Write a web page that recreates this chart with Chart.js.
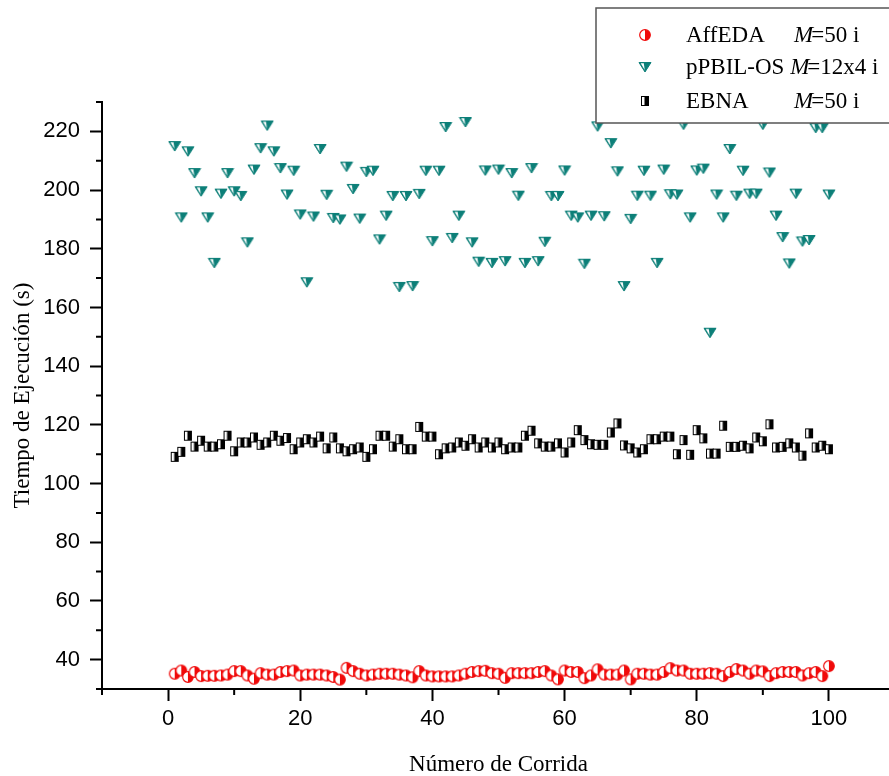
<!DOCTYPE html>
<html>
<head>
<meta charset="utf-8">
<script src="https://cdn.jsdelivr.net/npm/chart.js@4.4.0/dist/chart.umd.min.js"></script>
<style>
  html, body { margin: 0; padding: 0; background: #fff; overflow: hidden; }
</style>
</head>
<body>
<canvas id="myChart" width="900" height="776"></canvas>
<script>
// run number (x axis)
const runs = [
  1, 2, 3, 4, 5, 6, 7, 8, 9, 10, 11, 12, 13, 14, 15, 16, 17, 18, 19, 20,
  21, 22, 23, 24, 25, 26, 27, 28, 29, 30, 31, 32, 33, 34, 35, 36, 37, 38, 39, 40,
  41, 42, 43, 44, 45, 46, 47, 48, 49, 50, 51, 52, 53, 54, 55, 56, 57, 58, 59, 60,
  61, 62, 63, 64, 65, 66, 67, 68, 69, 70, 71, 72, 73, 74, 75, 76, 77, 78, 79, 80,
  81, 82, 83, 84, 85, 86, 87, 88, 89, 90, 91, 92, 93, 94, 95, 96, 97, 98, 99, 100
];

// execution times (s)
const affeda = [
  35.2, 36.3, 34.1, 35.8, 34.4, 34.5, 34.5, 34.6, 34.9, 36.1,
  36.1, 34.6, 33.5, 35.4, 34.9, 34.9, 35.8, 36.1, 36.3, 34.6,
  34.9, 34.9, 34.9, 34.6, 34.1, 33.2, 37.2, 36.1, 35.2, 34.6,
  34.9, 35.2, 35.2, 35.2, 34.9, 34.6, 34.0, 36.1, 34.6, 34.3,
  34.3, 34.3, 34.3, 34.6, 35.2, 35.8, 36.1, 36.2, 35.4, 35.2,
  33.8, 35.4, 35.4, 35.4, 35.4, 35.8, 36.1, 34.6, 33.3, 36.3,
  35.8, 35.8, 33.7, 34.6, 36.7, 34.9, 34.9, 34.9, 36.3, 33.3,
  35.2, 35.2, 34.9, 34.9, 35.8, 37.1, 36.3, 36.3, 35.2, 35.2,
  35.2, 35.4, 35.2, 34.4, 35.8, 36.8, 36.3, 35.2, 36.3, 36.0,
  34.4, 35.4, 35.8, 35.8, 35.8, 34.6, 35.4, 35.8, 34.4, 37.8
];

const ppbil = [
  215, 190.7, 213.2, 205.8, 199.6, 190.7, 175.2, 198.8, 205.8, 199.6,
  198, 182.2, 207, 214.3, 222, 213.2, 207.5, 198.5, 206.6, 191.7,
  168.6, 191, 214, 198.4, 190.5, 190, 208, 200.4, 190.3, 206.2,
  206.6, 183.2, 191.3, 198, 167, 198, 167.3, 198.7, 206.6, 182.6,
  206.6, 221.5, 183.7, 191.3, 223.2, 182.2, 175.6, 206.7, 175.2, 207,
  175.8, 205.8, 198.1, 175.2, 207.5, 175.8, 182.4, 198, 198, 206.7,
  191.3, 190.7, 174.9, 191.3, 221.7, 191.1, 216, 206.4, 167.3, 190.2,
  198.1, 206.6, 198.1, 175.2, 207, 198.6, 198.5, 222.3, 190.7, 206.7,
  207.3, 151.4, 198.5, 190.7, 214, 198.1, 206.6, 198.8, 198.8, 222.3,
  206, 191.3, 184, 175, 198.8, 182.5, 183, 221.2, 221.2, 198.5
];

const ebna = [
  109.1, 110.8, 116.3, 112.6, 114.6, 112.6, 112.6, 113.4, 116.3, 111,
  114, 114, 115.7, 113.2, 114, 116.3, 114.6, 115.5, 111.7, 114,
  115.1, 114, 116, 112, 115.7, 112, 111, 111.7, 112.3, 109.1,
  111.7, 116.3, 116.3, 112.6, 115.1, 111.7, 111.7, 119.3, 116, 116,
  110, 112, 112.3, 114, 112.9, 115.1, 112.3, 114, 112.3, 114,
  111.7, 112.3, 112.3, 116.3, 118, 113.7, 112.6, 112.6, 113.7, 110.6,
  114, 118.2, 114.8, 113.4, 113.2, 113.2, 117.4, 120.5, 113, 112,
  110.6, 111.7, 115.1, 115.1, 116, 116, 110, 114.8, 109.8, 118.2,
  115.4, 110.2, 110.2, 119.7, 112.5, 112.5, 112.9, 112, 115.7, 114.4,
  120.2, 112.3, 112.5, 113.7, 112.3, 109.5, 117.1, 112.3, 112.9, 111.7
];

const seriesNames = ["AffEDA", "pPBIL-OS", "EBNA"];
const seriesM = ["=50 i", "=12x4 i", "=50 i"];
const xTicks = [-10, 0, 10, 20, 30, 40, 50, 60, 70, 80, 90, 100, 110];
const yTicks = [30, 40, 50, 60, 70, 80, 90, 100, 110, 120, 130, 140, 150, 160, 170, 180, 190, 200, 210, 220, 230];

const RED = "#f00a0a";
const TEAL = "#0c7f78";
const BLACK = "#000000";

// half filled marker images
function halfCircle(color) {
  const c = document.createElement("canvas");
  c.width = 14; c.height = 14;
  const g = c.getContext("2d");
  g.fillStyle = "#fff";
  g.beginPath(); g.arc(7, 7, 5.3, 0, Math.PI * 2); g.fill();
  g.fillStyle = color;
  g.beginPath(); g.arc(7, 7, 5.3, -Math.PI / 2, Math.PI / 2); g.closePath(); g.fill();
  g.strokeStyle = color; g.lineWidth = 1.2;
  g.beginPath(); g.arc(7, 7, 5.3, 0, Math.PI * 2); g.stroke();
  return c;
}

function halfTriangle(color) {
  const c = document.createElement("canvas");
  c.width = 14; c.height = 12;
  const g = c.getContext("2d");
  g.fillStyle = color;
  g.beginPath(); g.moveTo(1, 1.5); g.lineTo(13, 1.5); g.lineTo(7, 11); g.closePath(); g.fill();
  g.fillStyle = "#fff";
  g.beginPath(); g.moveTo(2.7, 2.3); g.lineTo(5.8, 2.3); g.lineTo(6.7, 9.0); g.closePath(); g.fill();
  g.strokeStyle = color; g.lineWidth = 1;
  g.beginPath(); g.moveTo(1, 1.5); g.lineTo(13, 1.5); g.lineTo(7, 11); g.closePath(); g.stroke();
  return c;
}

function halfSquare(color) {
  const c = document.createElement("canvas");
  c.width = 10; c.height = 12;
  const g = c.getContext("2d");
  g.fillStyle = "#fff";
  g.fillRect(1, 1, 8, 10);
  g.fillStyle = color;
  g.fillRect(4.5, 1, 4.5, 10);
  g.strokeStyle = color; g.lineWidth = 1;
  g.strokeRect(1.5, 1.5, 7, 9);
  return c;
}

const markers = [halfCircle(RED), halfTriangle(TEAL), halfSquare(BLACK)];

function toPoints(values) {
  return runs.map((r, k) => ({ x: r, y: values[k] }));
}

// short minor ticks on both axes
const minorTicks = {
  id: "minorTicks",
  afterDraw(chart) {
    const { ctx, scales: { x, y } } = chart;
    ctx.save();
    ctx.strokeStyle = "#000";
    ctx.lineWidth = 2;
    ctx.beginPath();
    x.ticks.forEach(t => {
      if (t.value % 20 !== 0) {
        const px = x.getPixelForValue(t.value);
        ctx.moveTo(px, x.top); ctx.lineTo(px, x.top + 6);
      }
    });
    y.ticks.forEach(t => {
      if (t.value % 20 !== 0) {
        const py = y.getPixelForValue(t.value);
        ctx.moveTo(y.right - 6, py); ctx.lineTo(y.right, py);
      }
    });
    ctx.stroke();
    ctx.restore();
  }
};

// boxed legend with italic M
const legendBox = {
  id: "legendBox",
  afterDatasetsDraw(chart) {
    const ctx = chart.ctx;
    ctx.save();
    ctx.fillStyle = "#fff";
    ctx.fillRect(596, 8, 320, 115);
    ctx.strokeStyle = "#555";
    ctx.lineWidth = 1.5;
    ctx.strokeRect(596, 8, 320, 115);
    const rows = [35, 67, 101];
    ctx.fillStyle = "#000";
    ctx.textBaseline = "middle";
    seriesNames.forEach((name, k) => {
      const img = markers[k];
      ctx.drawImage(img, 645 - img.width / 2, rows[k] - img.height / 2);
      ctx.font = "23px 'Liberation Serif'";
      ctx.fillText(name, 686, rows[k] + 1);
      let mx = 794;
      if (k === 1) mx = 686 + ctx.measureText(name + " ").width;
      ctx.font = "italic 23px 'Liberation Serif'";
      ctx.fillText("M", mx, rows[k] + 1);
      const w = ctx.measureText("M").width;
      ctx.font = "23px 'Liberation Serif'";
      ctx.fillText(seriesM[k], mx + w - 2, rows[k] + 1);
    });
    ctx.restore();
  }
};

const config = {
  type: "scatter",
  data: {
    datasets: [
      { label: seriesNames[0], data: toPoints(affeda), pointStyle: markers[0], borderColor: RED, backgroundColor: RED },
      { label: seriesNames[1], data: toPoints(ppbil), pointStyle: markers[1], borderColor: TEAL, backgroundColor: TEAL },
      { label: seriesNames[2], data: toPoints(ebna), pointStyle: markers[2], borderColor: BLACK, backgroundColor: BLACK }
    ]
  },
  options: {
    responsive: false,
    animation: false,
    devicePixelRatio: 1,
    layout: { padding: { left: 0, top: 102, right: 0, bottom: 0 } },
    plugins: { legend: { display: false }, tooltip: { enabled: false } },
    scales: {
      x: {
        type: "linear",
        min: -10,
        max: 110,
        afterBuildTicks: s => { s.ticks = xTicks.map(v => ({ value: v })); },
        afterFit: s => { s.height = 87; },
        ticks: {
          autoSkip: false,
          maxRotation: 0,
          padding: 5,
          color: "#000",
          font: { family: "'Liberation Sans', Arial", size: 22 },
          callback: v => (v % 20 === 0 && v >= 0 && v <= 100 ? v : "")
        },
        grid: {
          drawOnChartArea: false,
          tickLength: 12,
          tickWidth: 2,
          tickColor: c => (c.tick && c.tick.value % 20 === 0 ? "#000" : "rgba(0,0,0,0)")
        },
        border: { color: "#000", width: 2 },
        title: {
          display: true,
          text: "Número de Corrida",
          color: "#000",
          font: { family: "'Liberation Serif', 'Times New Roman'", size: 23, lineHeight: 1.0 },
          padding: { top: 0, bottom: 0 }
        }
      },
      y: {
        type: "linear",
        min: 30,
        max: 230,
        afterBuildTicks: s => { s.ticks = yTicks.map(v => ({ value: v })); },
        afterFit: s => { s.width = 102; },
        ticks: {
          autoSkip: false,
          padding: 10,
          color: "#000",
          font: { family: "'Liberation Sans', Arial", size: 22 },
          callback: v => (v % 20 === 0 ? v : "")
        },
        grid: {
          drawOnChartArea: false,
          tickLength: 12,
          tickWidth: 2,
          tickColor: c => (c.tick && c.tick.value % 20 === 0 ? "#000" : "rgba(0,0,0,0)")
        },
        border: { color: "#000", width: 2 },
        title: {
          display: true,
          text: "Tiempo de Ejecución (s)",
          color: "#000",
          font: { family: "'Liberation Serif', 'Times New Roman'", size: 23 },
          padding: { top: 9, bottom: 0 }
        }
      }
    }
  },
  plugins: [minorTicks, legendBox]
};

const myChart = new Chart(document.querySelector("#myChart"), config);
</script>
</body>
</html>
